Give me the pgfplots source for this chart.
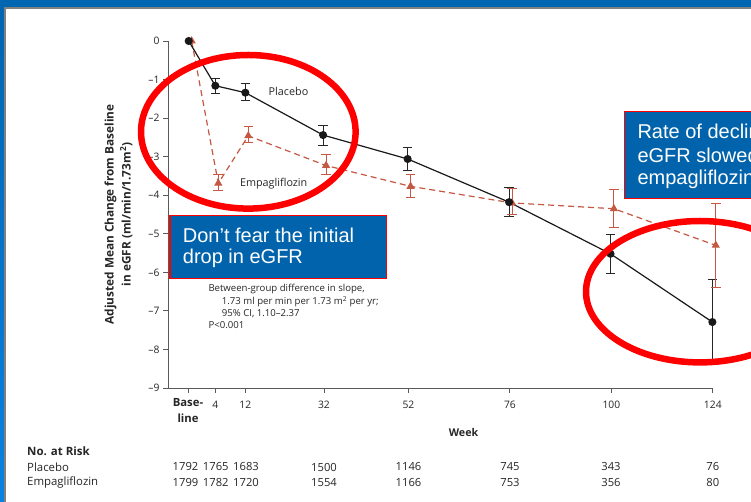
\documentclass[border=0pt]{standalone}
\usepackage{pgfplots}
\pgfplotsset{compat=1.18}
\usepackage{pgfplotstable}
\usepackage{fontspec}
\setmainfont{Open Sans}
\newfontfamily\slidefont{Liberation Sans}
\definecolor{slideblue}{RGB}{0,102,178}
\definecolor{boxblue}{RGB}{0,99,172}
\definecolor{empa}{RGB}{196,88,66}
\definecolor{axgray}{RGB}{90,90,90}

\pgfplotstableread{
x y ep em
0 0 0 0
6.3 -1.16 0.20 0.19
13.4 -1.34 0.23 0.21
31.8 -2.44 0.26 0.27
51.8 -3.06 0.31 0.31
75.8 -4.18 0.38 0.37
99.8 -5.52 0.49 0.52
123.9 -7.29 1.10 0.97
}\placebo

\pgfplotstableread{
x y ep em
0.7 0 0 0
7.0 -3.69 0.22 0.19
14.1 -2.46 0.24 0.18
32.5 -3.23 0.28 0.22
52.5 -3.77 0.30 0.29
76.5 -4.20 0.38 0.31
100.6 -4.35 0.51 0.49
124.7 -5.30 1.08 1.09
}\empagli

\begin{document}
\begin{tikzpicture}
\useasboundingbox (0,0) rectangle (751pt,502pt);
\clip (0,0) rectangle (751pt,502pt);
\fill[white] (0,0) rectangle (751pt,502pt);
% slide frame
\fill[slideblue] (0,494.5pt) rectangle (751pt,502pt);
\shade[top color=slideblue, bottom color={rgb,255:red,10;green,130;blue,225}] (0,0) rectangle (4.4pt,494.5pt);
\fill[gray] (4.4pt,492.6pt) rectangle (751pt,494.5pt);
\fill[gray] (4.4pt,0) rectangle (6pt,494.5pt);

\begin{axis}[
  at={(168pt,114pt)}, anchor=south west,
  scale only axis, width=544.8pt, height=347pt,
  xmin=-4.9, xmax=124, ymin=-9, ymax=0,
  clip=false,
  axis x line=bottom, axis y line=left,
  axis line style={-, draw=axgray, line width=0.9pt},
  tick style={draw=axgray, line width=0.9pt},
  tick align=outside, major tick length=5pt,
  xtick={0,6.3,13.4,32,52,76,100,124},
  xticklabels={{},4,12,32,52,76,100,124},
  xticklabel style={anchor=north, yshift=-5pt, font=\fontsize{10.3}{12}\selectfont, text=black!85},
  ytick={-9,-8,-7,-6,-5,-4,-3,-2,-1,0},
  yticklabels={\textendash9,\textendash8,\textendash7,\textendash6,\textendash5,\textendash4,\textendash3,\textendash2,\textendash1,0},
  yticklabel style={font=\fontsize{10.3}{12}\selectfont, text=black!85},
]
% error bars
\addplot[draw=none, mark=none, forget plot, skip coords between index={0}{1},
  error bars/.cd, y dir=both, y explicit,
  error bar style={draw=black!85, solid, line width=1pt},
  error mark options={draw=black!85, solid, mark size=4.8pt, line width=1pt, rotate=90}]
  table[x=x, y=y, y error plus=ep, y error minus=em] {\placebo};
\addplot[draw=none, mark=none, forget plot, skip coords between index={0}{1},
  error bars/.cd, y dir=both, y explicit,
  error bar style={draw=empa, solid, line width=1pt},
  error mark options={draw=empa, solid, mark size=4.8pt, line width=1pt, rotate=90}]
  table[x=x, y=y, y error plus=ep, y error minus=em] {\empagli};
% lines
\addplot[empa, line width=1.2pt, dash pattern=on 6pt off 4pt, mark=triangle*, mark size=3.6pt,
  mark options={solid, fill=empa, draw=empa}]
  table[x=x, y=y] {\empagli};
\addplot[black!90, line width=1.2pt, mark=*, mark size=3.4pt,
  mark options={fill=black!90, draw=black!90}]
  table[x=x, y=y] {\placebo};
\end{axis}

% labels
\node[rotate=90, align=center, font=\bfseries\fontsize{11.8}{17}\selectfont, text=black!85] at (118.5pt,287.5pt)
  {Adjusted Mean Change from Baseline\\in eGFR (ml/min/1.73m\textsuperscript{2})};
\node[font=\bfseries\fontsize{11.3}{13}\selectfont, text=black!85] at (188pt,99pt) {Base-};
\node[font=\bfseries\fontsize{11.3}{13}\selectfont, text=black!85] at (188pt,84pt) {line};
\node[font=\fontsize{10.8}{12}\selectfont, text=black!85] at (288.5pt,410.3pt) {Placebo};
\node[font=\fontsize{10.8}{12}\selectfont, text=black!85] at (273.7pt,318.7pt) {Empagliflozin};
\node[anchor=west, inner sep=0, font=\fontsize{9.6}{11}\selectfont, text=black!85] at (208.3pt,212.7pt) {Between-group difference in slope,};
\node[anchor=west, inner sep=0, font=\fontsize{9.6}{11}\selectfont, text=black!85] at (221.7pt,200.3pt) {1.73 ml per min per 1.73 m\textsuperscript{2} per yr;};
\node[anchor=west, inner sep=0, font=\fontsize{9.6}{11}\selectfont, text=black!85] at (221.7pt,188.7pt) {95\% CI, 1.10\textendash2.37};
\node[anchor=west, inner sep=0, font=\fontsize{9.6}{11}\selectfont, text=black!85] at (208.3pt,177pt) {P<0.001};
\node[font=\bfseries\fontsize{10.7}{12}\selectfont, text=black!85] at (463.5pt,69.2pt) {Week};

% at-risk table
\node[anchor=west, inner sep=0, font=\bfseries\fontsize{11.5}{13}\selectfont, text=black!85] at (27pt,51pt) {No. at Risk};
\node[anchor=west, inner sep=0, font=\fontsize{11.4}{13}\selectfont, text=black!85] at (27pt,35pt) {Placebo};
\node[anchor=west, inner sep=0, font=\fontsize{11.4}{13}\selectfont, text=black!85] at (27pt,19.3pt) {Empagliflozin};
\foreach \xx/\a/\b in {185.5/1792/1799, 215.8/1765/1782, 246/1683/1720, 324/1500/1554, 408.5/1146/1166, 510/745/753, 611/343/356, 712.8/76/80}{
  \node[inner sep=0, font=\fontsize{11.2}{13}\selectfont, text=black!85] at (\xx pt,35pt) {\a};
  \node[inner sep=0, font=\fontsize{11.2}{13}\selectfont, text=black!85] at (\xx pt,19.3pt) {\b};
}

% slide annotations
\draw[red, line width=6.5pt] (248.3pt,370.2pt) ellipse [x radius=107.3pt, y radius=76.8pt];
\draw[red, line width=6.5pt] (700pt,210.3pt) ellipse [x radius=114pt, y radius=70.7pt];
\draw[red, line width=1.3pt, fill=boxblue] (170pt,223.7pt) rectangle (386.7pt,286.7pt);
\node[anchor=west, inner sep=0, text=white, font=\slidefont\fontsize{20}{23}\selectfont] at (182.7pt,267pt) {Don’t fear the initial};
\node[anchor=west, inner sep=0, text=white, font=\slidefont\fontsize{20}{23}\selectfont] at (182.7pt,243.7pt) {drop in eGFR};
\draw[red, line width=1.3pt, fill=boxblue] (624.3pt,303.7pt) rectangle (820pt,390.3pt);
\node[anchor=west, inner sep=0, text=white, font=\slidefont\fontsize{20}{23}\selectfont] at (637.3pt,370.3pt) {Rate of decline in};
\node[anchor=west, inner sep=0, text=white, font=\slidefont\fontsize{20}{23}\selectfont] at (637.3pt,347pt) {eGFR slowed with};
\node[anchor=west, inner sep=0, text=white, font=\slidefont\fontsize{20}{23}\selectfont] at (637.3pt,323pt) {empagliflozin};
\end{tikzpicture}
\end{document}
